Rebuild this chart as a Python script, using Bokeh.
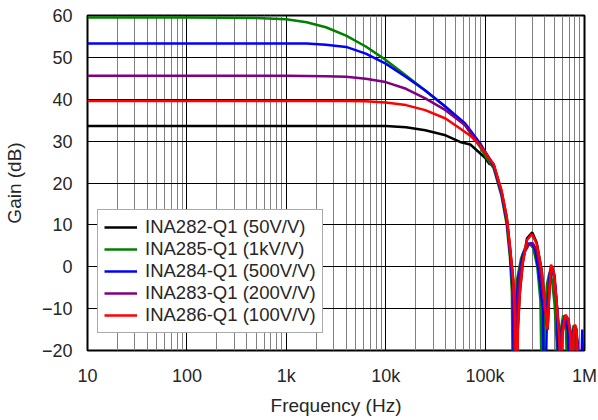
from bokeh.plotting import figure
from bokeh.models import Range1d, FixedTicker, Legend, LegendItem
from bokeh.embed import file_html
from bokeh.resources import INLINE

# ---------------- data ----------------
series_names = ["INA282-Q1 (50V/V)", "INA285-Q1 (1kV/V)", "INA284-Q1 (500V/V)",
                "INA283-Q1 (200V/V)", "INA286-Q1 (100V/V)"]
series_colors = ["#000000", "#008000", "#0000FF", "#800080", "#FF0000"]

ina282_f = [10, 100, 1000, 6300, 10000, 16000, 25000, 40000, 56000, 71000, 89000, 100000,
            110000, 122000, 146000, 165000, 178000, 192000, 200000, 206000, 213000, 224000,
            240000, 264000, 298000, 330000, 370000, 400000, 425000, 440000, 460000, 490000,
            525000, 560000, 575000, 600000, 640000, 690000, 725000, 750000, 775000, 800000,
            830000, 1000000]
ina282_g = [33.6, 33.6, 33.6, 33.6, 33.6, 33.3, 32.6, 31.4, 29.8, 29.2, 27.1, 26.0,
            24.6, 24.2, 18.0, 11.7, 4.5, -3.4, -12, -40, -15, -6,
            1.2, 6.8, 8.2, 5.8, -0.7, -9, -15, -7, 0.3, -1.6,
            -8.8, -18, -40, -16, -11.7, -12.7, -17, -40, -16, -14,
            -15, -40]

ina285_f = [10, 100, 500, 1000, 1600, 2500, 4000, 6300, 10000, 16000, 25000, 40000, 63000,
            89000, 100000, 122000, 146000, 165000, 178000, 186000, 192000, 200000, 210000,
            230000, 255000, 280000, 305000, 335000, 360000, 378000, 395000, 420000, 445000,
            470000, 500000, 525000, 538000, 560000, 610000, 650000, 692000, 720000, 780000,
            830000, 870000, 1000000]
ina285_g = [59.5, 59.5, 59.4, 59.1, 58.4, 57.2, 55.2, 52.6, 49.4, 45.7, 42.1, 38.2, 33.8,
            28.6, 26.5, 23.5, 17.0, 10.0, 2.0, -6, -40, -12, -3,
            2, 4.8, 5.5, 4.5, 0, -8, -40, -12, -4, -1.4,
            -3, -9, -18, -40, -17, -11.6, -14, -40, -17, -14,
            -20, -40, -40]

ina284_f = [10, 100, 1000, 1600, 2500, 4000, 6300, 10000, 16000, 25000, 40000, 63000,
            89000, 100000, 122000, 146000, 165000, 178000, 190000, 198000, 205000, 215000,
            240000, 270000, 295000, 320000, 350000, 380000, 398000, 420000, 450000, 470000,
            500000, 530000, 555000, 580000, 630000, 680000, 720000, 760000, 800000, 850000,
            900000, 950000, 1000000]
ina284_g = [53.3, 53.3, 53.3, 53.3, 53.0, 52.5, 50.9, 48.5, 45.3, 42.1, 38.2, 34.2,
            29.5, 27.5, 24.0, 17.5, 11.0, 3.5, -6, -40, -12, -3,
            3, 5.5, 5.6, 4, -2, -10, -40, -10, -1, -0.2,
            -3, -10, -40, -16, -12, -15, -40, -16, -14, -18,
            -40, -15, -40]

ina283_f = [10, 100, 1000, 2500, 4000, 6300, 10000, 16000, 25000, 40000, 63000, 89000,
            100000, 122000, 146000, 165000, 178000, 192000, 203000, 210000, 225000, 250000,
            275000, 300000, 330000, 365000, 400000, 425000, 445000, 470000, 500000, 530000,
            580000, 600000, 650000, 700000, 740000, 790000, 830000, 900000]
ina283_g = [45.6, 45.6, 45.6, 45.5, 45.4, 44.9, 44.1, 42.5, 40.2, 37.4, 33.8, 28.9,
            27.5, 24.4, 18.0, 11.5, 4.0, -4, -40, -10, -1, 3.5,
            5.2, 5.7, 4, -2, -10, -15, -5, 0, -2, -10,
            -19, -15, -11.5, -14, -20, -15, -16, -40]

ina286_f = [10, 100, 1000, 4000, 6300, 10000, 16000, 25000, 40000, 56000, 71000, 89000,
            100000, 110000, 122000, 146000, 165000, 178000, 192000, 200000, 207000, 214000,
            224000, 240000, 264000, 295000, 330000, 370000, 400000, 425000, 440000, 460000,
            490000, 525000, 560000, 575000, 600000, 640000, 690000, 725000, 750000, 775000,
            800000, 830000, 870000, 1000000]
ina286_g = [39.6, 39.6, 39.6, 39.6, 39.5, 39.2, 38.6, 37.4, 35.4, 33.0, 31.3, 28.9,
            27.3, 25.8, 24.5, 18.3, 12.0, 4.8, -3.1, -12, -40, -15,
            -6, 1.0, 6.4, 7.8, 5.6, -0.7, -9, -15, -7, 0.5,
            -1.4, -8.6, -18, -40, -16, -11.5, -12.5, -17, -40, -16,
            -13.8, -15, -25, -40]

x_ticks = [10, 100, 1000, 10000, 100000, 1000000]
x_tick_labels = ["10", "100", "1k", "10k", "100k", "1M"]
x_minor = [m * d for d in [10, 100, 1000, 10000, 100000] for m in range(2, 10)]
y_ticks = [-20, -10, 0, 10, 20, 30, 40, 50, 60]

# ---------------- figure ----------------
FONT = "Liberation Sans"
TXT = "#262626"

p = figure(width=598, height=418, x_axis_type="log", output_backend="svg",
           toolbar_location=None, x_range=Range1d(10, 1e6), y_range=Range1d(-20, 60),
           min_border_left=87, min_border_right=14, min_border_top=15, min_border_bottom=67)
p.background_fill_color = "white"
p.border_fill_color = "white"
p.outline_line_color = "black"
p.outline_line_width = 2

p.xaxis.ticker = FixedTicker(ticks=x_ticks, minor_ticks=x_minor)
p.xaxis.major_label_overrides = {t: l for t, l in zip(x_ticks, x_tick_labels)}
p.yaxis.ticker = FixedTicker(ticks=y_ticks)

for ax in (p.xaxis[0], p.yaxis[0]):
    ax.axis_line_color = None
    ax.major_tick_line_color = None
    ax.minor_tick_line_color = None
    ax.major_tick_out = 0
    ax.major_tick_in = 0
    ax.minor_tick_out = 0
    ax.minor_tick_in = 0
    ax.major_label_text_font = FONT
    ax.major_label_text_font_size = "18px"
    ax.major_label_text_color = TXT
    ax.axis_label_text_font = FONT
    ax.axis_label_text_font_style = "normal"
    ax.axis_label_text_color = TXT
    ax.axis_label_text_font_size = "19px"

p.xaxis.axis_label = "Frequency (Hz)"
p.xaxis.major_label_standoff = 15
p.xaxis.axis_label_standoff = 6
p.yaxis.axis_label = "Gain (dB)"
p.yaxis.major_label_standoff = 15
p.yaxis.axis_label_standoff = 14

p.xgrid.grid_line_color = "black"
p.xgrid.grid_line_width = 1
p.xgrid.minor_grid_line_color = "#808080"
p.xgrid.minor_grid_line_width = 1
p.ygrid.grid_line_color = "black"
p.ygrid.grid_line_width = 1
p.ygrid.minor_grid_line_color = None

data = [(ina282_f, ina282_g), (ina285_f, ina285_g), (ina284_f, ina284_g),
        (ina283_f, ina283_g), (ina286_f, ina286_g)]
items = []
for (f, g), name, col in zip(data, series_names, series_colors):
    r = p.line(f, g, line_color=col, line_width=2.5)
    items.append(LegendItem(label=name, renderers=[r]))

legend = Legend(items=items, location=(10, 17))
legend.label_text_font = FONT
legend.label_text_font_size = "18.5px"
legend.label_text_line_height = 1.0
legend.label_text_color = TXT
legend.glyph_width = 33
legend.glyph_height = 20
legend.label_height = 20
legend.label_standoff = 8
legend.spacing = 0
legend.padding = 6
legend.margin = 0
legend.border_line_color = "#555555"
legend.border_line_width = 1.5
legend.background_fill_color = "white"
legend.background_fill_alpha = 1
p.add_layout(legend, "center")

open("out.html", "w").write(file_html(p, INLINE))
